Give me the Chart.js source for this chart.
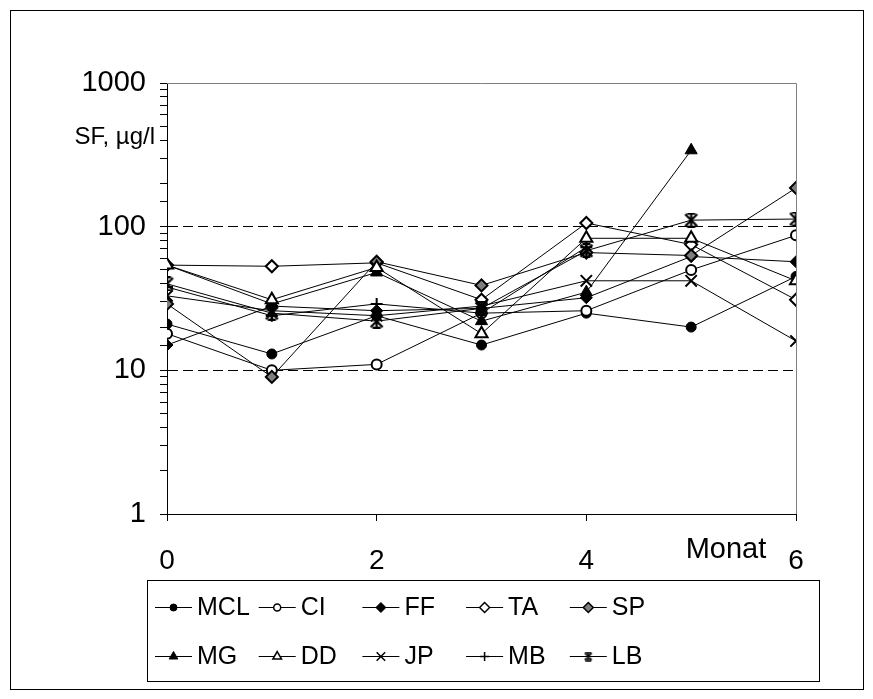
<!DOCTYPE html>
<html>
<head>
<meta charset="utf-8">
<script src="https://cdn.jsdelivr.net/npm/chart.js@4/dist/chart.umd.min.js"></script>
<style>
html,body{margin:0;padding:0;background:#fff;}
#wrap{width:873px;height:699px;position:relative;}
</style>
</head>
<body>
<div id="wrap"><canvas id="c" width="873" height="699"></canvas></div>
<script>
// ---- data ----
const months = [0, 1, 2, 3, 4, 5, 6];
const xTickValues = [0, 2, 4, 6];
const yTickLabels = [1, 10, 100, 1000];
const seriesNames = ['MCL', 'CI', 'FF', 'TA', 'SP', 'MG', 'DD', 'JP', 'MB', 'LB'];
const MCL = [21, 13, 24, 15, 25, 20, 45];
const CI  = [18, 10, 11, 25, 26, 50, 87];
const FF  = [15, 28, 26, 27, 32, 62, 57];
const TA  = [54, 53, 56, 31, 106, 75, 31];
const SP  = [29, 9, 57, 39, 66, 63, 186];
const MG  = [54, 29, 48, 22, 35, 340, null];
const DD  = [54, 31, 52, 18, 83, 83, 42];
const JP  = [33, 26, 24, 28, 42, 42, 16];
const MB  = [38, 24, 29, 25, 72, null, null];
const LB  = [40, 25, 22, 27, 68, 111, 113];
const seriesValues = [MCL, CI, FF, TA, SP, MG, DD, JP, MB, LB];

const FONT = '"Liberation Sans", Arial, sans-serif';

// star marker (X with vertical bar) like the spreadsheet marker
function makeStar(size, lw) {
  const c = document.createElement('canvas');
  c.width = size; c.height = size;
  const g = c.getContext('2d');
  g.strokeStyle = '#000'; g.lineWidth = lw;
  const m = 1.5, s = size, h = Math.round(size / 4);
  g.beginPath();
  g.moveTo(m, m); g.lineTo(s - m, s - m);
  g.moveTo(s - m, m); g.lineTo(m, s - m);
  g.moveTo(s / 2, 0.5); g.lineTo(s / 2, s - 0.5);
  g.moveTo(s / 2 - h, 1); g.lineTo(s / 2 + h, 1);
  g.moveTo(s / 2 - h, s - 1); g.lineTo(s / 2 + h, s - 1);
  g.stroke();
  return c;
}
const starBig = makeStar(15, 2.2);
const starSmall = makeStar(10, 1.6);

// marker styles per series
const markerStyles = [
  {pointStyle: 'circle',   radius: 5,   bg: '#000',    bw: 1,   lr: 3.5},
  {pointStyle: 'circle',   radius: 5,   bg: '#fff',    bw: 2,   lr: 3.5},
  {pointStyle: 'rectRot',  radius: 6,   bg: '#000',    bw: 1,   lr: 5},
  {pointStyle: 'rectRot',  radius: 6,   bg: '#fff',    bw: 2,   lr: 5},
  {pointStyle: 'rectRot',  radius: 6,   bg: '#7f7f7f', bw: 2,   lr: 5},
  {pointStyle: 'triangle', radius: 7,   bg: '#000',    bw: 1,   lr: 5},
  {pointStyle: 'triangle', radius: 7,   bg: '#fff',    bw: 2,   lr: 5},
  {pointStyle: 'crossRot', radius: 8,   bg: '#000',    bw: 2,   lr: 6},
  {pointStyle: 'cross',    radius: 6,   bg: '#000',    bw: 2,   lr: 4.5},
  {pointStyle: starBig,    radius: 7,   bg: '#000',    bw: 2,   lr: 5, legendImg: starSmall}
];

const datasets = seriesNames.map((name, i) => ({
  label: name,
  data: months.map((m, j) => ({x: m, y: seriesValues[i][j]})),
  order: seriesNames.length - i,
  borderColor: '#000',
  borderWidth: 1,
  pointStyle: markerStyles[i].pointStyle,
  pointRadius: markerStyles[i].radius,
  pointBackgroundColor: markerStyles[i].bg,
  pointBorderColor: '#000',
  pointBorderWidth: markerStyles[i].bw,
  fill: false,
  tension: 0,
  spanGaps: false
}));

const decor = {
  id: 'decor',
  beforeDraw(chart) {
    const ctx = chart.ctx;
    ctx.save();
    ctx.fillStyle = '#fff';
    ctx.fillRect(0, 0, chart.width, chart.height);
    ctx.restore();
  },
  beforeDatasetsDraw(chart) {
    const ctx = chart.ctx, a = chart.chartArea;
    ctx.save();
    ctx.strokeStyle = '#808080';
    ctx.lineWidth = 1;
    ctx.beginPath();
    ctx.moveTo(a.left, Math.round(a.top) + 0.5);
    ctx.lineTo(Math.round(a.right) + 0.5, Math.round(a.top) + 0.5);
    ctx.lineTo(Math.round(a.right) + 0.5, a.bottom);
    ctx.stroke();
    ctx.restore();
  },
  afterDraw(chart) {
    const ctx = chart.ctx, a = chart.chartArea;
    ctx.save();
    // outer frame
    ctx.strokeStyle = '#000';
    ctx.lineWidth = 1;
    ctx.strokeRect(10.5, 10.5, 853, 679);
    // axis titles
    ctx.fillStyle = '#000';
    ctx.font = '24px ' + FONT;
    ctx.textAlign = 'right';
    ctx.textBaseline = 'middle';
    ctx.fillText('SF, µg/l', a.left - 12, 137);
    ctx.font = '29px ' + FONT;
    ctx.textAlign = 'center';
    ctx.fillText('Monat', 726, 550);
    // legend box
    ctx.strokeStyle = '#000';
    ctx.strokeRect(147.5, 580.5, 672, 101);
    ctx.font = '25px ' + FONT;
    ctx.textAlign = 'left';
    chart.data.datasets.forEach((ds, i) => {
      const col = i % 5, row = Math.floor(i / 5);
      const x0 = 155 + col * 103.7;
      const yc = 607 + row * 49;
      ctx.strokeStyle = '#000';
      ctx.lineWidth = 1;
      ctx.beginPath();
      ctx.moveTo(x0, yc + 0.5);
      ctx.lineTo(x0 + 37, yc + 0.5);
      ctx.stroke();
      const ms = markerStyles[i];
      ctx.fillStyle = ms.bg;
      ctx.strokeStyle = '#000';
      ctx.lineWidth = Math.min(ms.bw, 1.5);
      Chart.helpers.drawPoint(ctx, {
        pointStyle: ms.legendImg || ms.pointStyle,
        radius: ms.lr,
        rotation: 0,
        borderWidth: Math.min(ms.bw, 1.5)
      }, x0 + 18.5, yc + 0.5);
      ctx.fillStyle = '#000';
      ctx.fillText(ds.label, x0 + 42, yc + 1);
    });
    ctx.restore();
  }
};

new Chart(document.getElementById('c'), {
  type: 'line',
  data: {datasets},
  plugins: [decor],
  options: {
    responsive: false,
    devicePixelRatio: 1,
    animation: false,
    layout: {padding: {top: 83, right: 77, left: 0, bottom: 0}},
    plugins: {legend: {display: false}, tooltip: {enabled: false}},
    scales: {
      x: {
        type: 'linear',
        min: 0, max: 6,
        afterBuildTicks(scale) { scale.ticks = xTickValues.map(v => ({value: v})); },
        afterFit(scale) { scale.height = 699 - 514; },
        ticks: {
          color: '#000',
          font: {family: FONT, size: 28},
          padding: 23,
          maxRotation: 0,
          autoSkip: false,
          callback: v => String(v)
        },
        grid: {drawOnChartArea: false, tickLength: 7, tickColor: '#000', color: '#000'},
        border: {display: true, color: '#000', width: 1}
      },
      y: {
        type: 'logarithmic',
        min: 1, max: 1000,
        afterFit(scale) { scale.width = 167; },
        ticks: {
          color: '#000',
          font: {family: FONT, size: 29},
          padding: 14,
          autoSkip: false,
          callback: v => (yTickLabels.includes(v) ? String(v) : '')
        },
        grid: {
          tickLength: 7,
          tickColor: '#000',
          color: ctx => (ctx.tick && (ctx.tick.value === 10 || ctx.tick.value === 100)) ? '#000' : 'rgba(0,0,0,0)',
          borderDash: [10, 5]
        },
        border: {display: true, color: '#000', width: 1, dash: [10, 5]}
      }
    }
  }
});
</script>
</body>
</html>
